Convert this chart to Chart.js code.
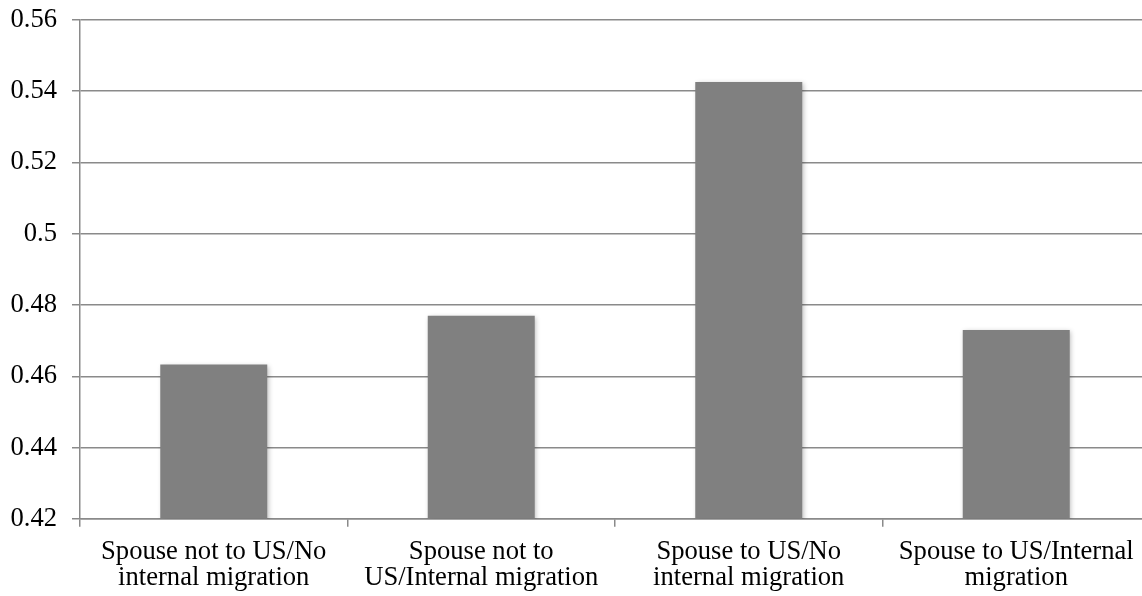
<!DOCTYPE html>
<html>
<head>
<meta charset="utf-8">
<script src="https://cdn.jsdelivr.net/npm/chart.js@4"></script>
<style>
  html, body { margin: 0; padding: 0; background: #fff; overflow: hidden; }
  #wrap { position: relative; width: 1150px; height: 614px; margin-top: -11px; }
</style>
</head>
<body>
<div id="wrap"><canvas id="chart"></canvas></div>
<script>
// Group labels (two lines each), bar heights and the y-axis tick texts
const categories = [
  ['Spouse not to US/No', 'internal migration'],
  ['Spouse not to', 'US/Internal migration'],
  ['Spouse to US/No', 'internal migration'],
  ['Spouse to US/Internal', 'migration']
];
const values = [0.4633, 0.4770, 0.5426, 0.4730];
const yTickLabels = ['0.42', '0.44', '0.46', '0.48', '0.5', '0.52', '0.54', '0.56'];

const gridColor = '#8a8a8a';
const serif = "'Liberation Serif', 'Times New Roman', serif";

// Soft drop shadow under the bars
const barShadow = {
  id: 'barShadow',
  beforeDatasetsDraw(chart) {
    const ctx = chart.ctx;
    ctx.save();
    ctx.shadowColor = 'rgba(0,0,0,0.28)';
    ctx.shadowBlur = 5;
    ctx.shadowOffsetX = 1.5;
    ctx.shadowOffsetY = 1.5;
  },
  afterDatasetsDraw(chart) {
    chart.ctx.restore();
  }
};

new Chart(document.getElementById('chart'), {
  type: 'bar',
  data: {
    labels: categories,
    datasets: [{
      data: values,
      backgroundColor: '#808080',
      borderWidth: 0,
      barPercentage: 0.4,
      categoryPercentage: 1.0
    }]
  },
  options: {
    responsive: true,
    maintainAspectRatio: false,
    animation: false,
    layout: { padding: { left: 10, top: 0, right: 0, bottom: 0 } },
    plugins: { legend: { display: false }, tooltip: { enabled: false } },
    scales: {
      y: {
        min: 0.42,
        max: 0.56,
        afterFit: (scale) => { scale.width = 70; },
        ticks: {
          stepSize: 0.02,
          color: '#000',
          padding: 15,
          font: { family: serif, size: 26.6 },
          callback: (v, i) => yTickLabels[i]
        },
        grid: { color: gridColor, lineWidth: 1.5, tickLength: 8 },
        border: { color: gridColor, width: 1.5 }
      },
      x: {
        ticks: {
          color: '#000',
          padding: 12,
          maxRotation: 0,
          autoSkip: false,
          font: { family: serif, size: 26.6, lineHeight: 0.98 }
        },
        grid: { drawOnChartArea: false, color: gridColor, lineWidth: 1.5, tickLength: 8, offset: true },
        border: { color: gridColor, width: 1.5 }
      }
    }
  },
  plugins: [barShadow]
});
</script>
</body>
</html>
